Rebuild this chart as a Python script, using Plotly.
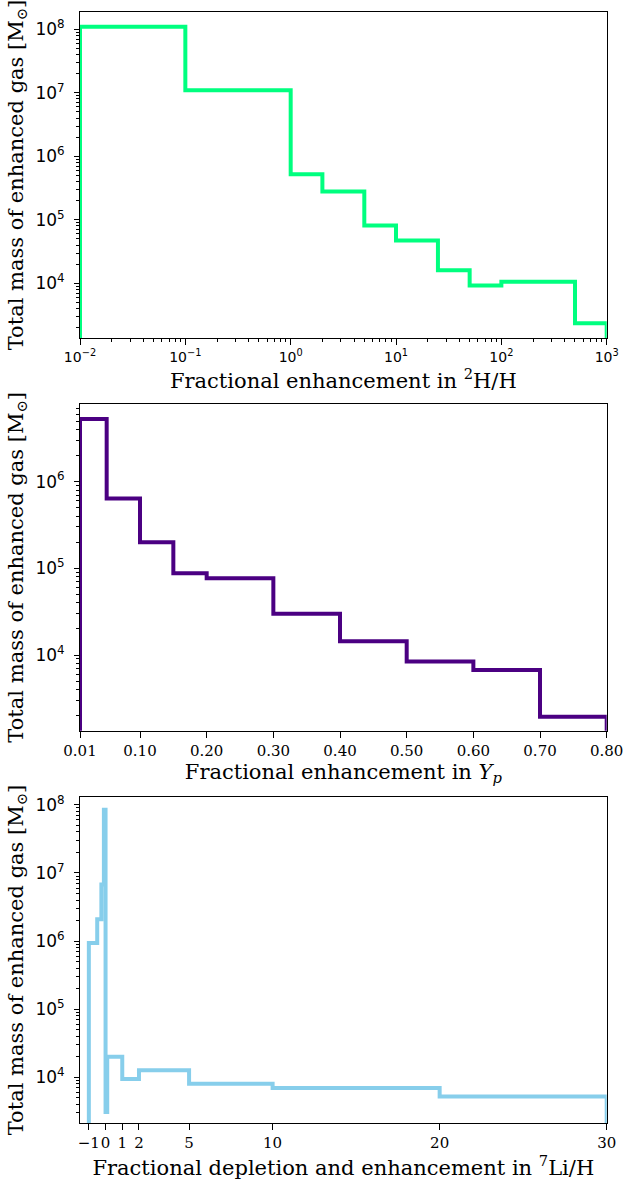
import numpy as np
import plotly.graph_objects as go

# ---- data ----
h2_edges = [0.01, 0.1, 1, 2, 5, 10, 25, 50, 100, 500, 1000]
h2_mass = [1.1e8, 1.1e7, 5.2e5, 2.8e5, 8.1e4, 4.7e4, 1.6e4, 9.2e3, 1.06e4, 2.35e3]

yp_edges = [0.01, 0.05, 0.10, 0.15, 0.20, 0.30, 0.40, 0.50, 0.60, 0.70, 0.80]
yp_mass = [5.3e6, 6.4e5, 2.0e5, 8.8e4, 7.7e4, 3.0e4, 1.44e4, 8.4e3, 6.7e3, 1.94e3]

li_edges = [-1, -0.5, -0.25, -0.1, 0, 0.1, 1, 2, 5, 10, 20, 30]
li_mass = [9.4e5, 2.1e6, 6.8e6, 8.5e7, 3.1e3, 2.0e4, 9.4e3, 1.27e4, 8.05e3, 6.96e3, 5.2e3]

yp_ticks = [0.01, 0.10, 0.20, 0.30, 0.40, 0.50, 0.60, 0.70, 0.80]
yp_ticklabels = ["0.01", "0.10", "0.20", "0.30", "0.40", "0.50", "0.60", "0.70", "0.80"]
li_ticks = [-1, 0, 1, 2, 5, 10, 20, 30]
li_ticklabels = ["\u22121", "0", "1", "2", "5", "10", "20", "30"]

colors = ["#00FF7F", "#4B0082", "#87CEEB"]

FLOOR = 1.0  # far below every y range: step outline drops to the axis floor


def step_xy(edges, vals):
    xs = [edges[0]] + list(edges) + [edges[-1]]
    ys = [FLOOR] + list(vals) + [vals[-1]] + [FLOOR]
    return xs, ys


def pow_label(e):
    s = str(e).replace("-", "\u2212")
    return f"10<sup>{s}</sup>"


def log_minor(lo, hi):
    out = []
    for d in range(int(np.floor(lo)) - 1, int(np.ceil(hi)) + 1):
        for m in range(2, 10):
            v = m * 10.0 ** d
            if 10 ** lo <= v <= 10 ** hi:
                out.append(v)
    return out


def log_major(lo, hi):
    return [10.0 ** d for d in range(int(np.ceil(lo)), int(np.floor(hi)) + 1)]


fig = go.Figure()

W, H = 624, 1184
xdom = [80 / W, 606.7 / W]
ydoms = [
    [1 - 338.3 / H, 1 - 11.7 / H],
    [1 - 730.7 / H, 1 - 404.0 / H],
    [1 - 1123.3 / H, 1 - 796.7 / H],
]
yranges = [[3.134, 8.277], [3.127, 6.896], [3.324, 8.12]]

serif = "DejaVu Serif"
sans = "DejaVu Sans"

datasets = [(h2_edges, h2_mass), (yp_edges, yp_mass), (li_edges, li_mass)]
for i, (e, v) in enumerate(datasets):
    xs, ys = step_xy(e, v)
    fig.add_trace(go.Scatter(
        x=xs, y=ys, mode="lines", line=dict(color=colors[i], width=4, shape="hv"),
        xaxis="x" if i == 0 else f"x{i+1}", yaxis="y" if i == 0 else f"y{i+1}",
        showlegend=False, hoverinfo="skip"))

common = dict(showline=True, linecolor="black", linewidth=1, mirror=True,
              ticks="outside", tickcolor="black", showgrid=False, zeroline=False,
              automargin=False, tickangle=0)

ytitle = "Total mass of enhanced gas [M<sub>\u2299</sub>]"
xtitles = [
    "Fractional enhancement in <sup>2</sup>H/H",
    "Fractional enhancement in <i>Y<sub>p</sub></i>",
    "Fractional depletion and enhancement in <sup>7</sup>Li/H",
]

layout = dict(width=W, height=H, margin=dict(l=0, r=0, t=0, b=0, autoexpand=False),
              paper_bgcolor="white", plot_bgcolor="white", showlegend=False)

for i in range(3):
    xn = "xaxis" if i == 0 else f"xaxis{i+1}"
    yn = "yaxis" if i == 0 else f"yaxis{i+1}"
    xa = "x" if i == 0 else f"x{i+1}"
    ya = "y" if i == 0 else f"y{i+1}"
    lo, hi = yranges[i]
    ymaj = log_major(lo, hi)
    layout[yn] = dict(common, type="log", range=[lo, hi], domain=ydoms[i], anchor=xa,
                      tickvals=ymaj, ticktext=[pow_label(int(round(np.log10(t)))) for t in ymaj],
                      ticklen=5, ticklabelstandoff=6,
                      tickfont=dict(family=sans, size=17, color="black"),
                      minor=dict(tickvals=log_minor(lo, hi), ticks="outside", ticklen=3,
                                 tickcolor="black", showgrid=False),
                      title=dict(text=ytitle, font=dict(family=serif, size=21, color="black"),
                                 standoff=6))
    xt = dict(text=xtitles[i], font=dict(family=serif, size=21, color="black"), standoff=2)
    if i == 0:
        xmaj = [1e-2, 1e-1, 1e0, 1e1, 1e2, 1e3]
        layout[xn] = dict(common, type="log", range=[-2, 3], domain=xdom, anchor=ya,
                          tickvals=xmaj, ticktext=[pow_label(int(round(np.log10(t)))) for t in xmaj],
                          ticklen=6, tickfont=dict(family=sans, size=14, color="black"),
                          minor=dict(tickvals=log_minor(-2, 3), ticks="outside", ticklen=3,
                                     tickcolor="black", showgrid=False),
                          title=xt)
    elif i == 1:
        layout[xn] = dict(common, type="linear", range=[0.01, 0.80], domain=xdom, anchor=ya,
                          tickvals=yp_ticks, ticktext=yp_ticklabels, ticklen=6,
                          tickfont=dict(family=serif, size=15, color="black"), title=xt)
    else:
        layout[xn] = dict(common, type="linear", range=[-1.53, 30], domain=xdom, anchor=ya,
                          tickvals=li_ticks, ticktext=li_ticklabels, ticklen=6,
                          tickfont=dict(family=serif, size=15, color="black"), title=xt)

fig.update_layout(**layout)
fig.write_html("out.html", config={"displayModeBar": False},
               post_script="document.body.style.margin='0';document.body.style.overflow='hidden';")
